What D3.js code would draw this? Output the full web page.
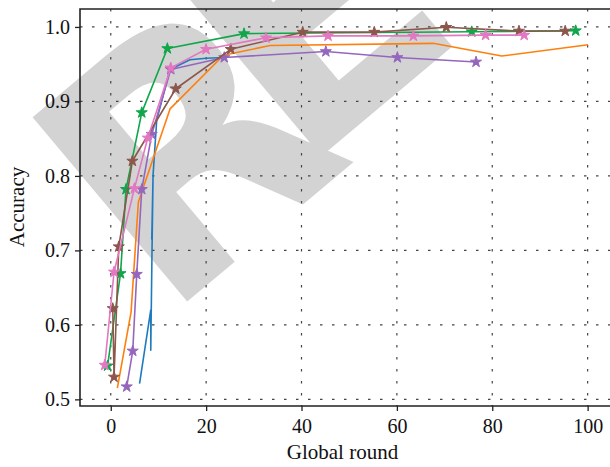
<!DOCTYPE html>
<html>
<head>
<meta charset="utf-8">
<script src="https://cdn.jsdelivr.net/npm/d3@7"></script>
<style>
  body { margin: 0; background: #fff; }
  text { font-family: "Liberation Serif", "DejaVu Serif", serif; fill: #111; }
</style>
</head>
<body>
<svg id="chart" width="610" height="467"></svg>
<script>
// values
const blueX   = [6.04, 8.39, 8.39, 8.66, 8.87, 8.6, 8.87, 9.64, 12.43, 16.6, 20.0, 23.75];
const blueY   = [0.521, 0.620, 0.566, 0.704, 0.801, 0.715, 0.801, 0.875, 0.943, 0.956, 0.958, 0.959];
const orangeX = [1.38, 4.26, 5.79, 12.43, 23.65, 33.4, 67.6, 82.0, 100.1];
const orangeY = [0.515, 0.617, 0.765, 0.890, 0.962, 0.975, 0.978, 0.961, 0.976];
const greenX  = [-0.67, 2.05, 3.2, 6.5, 11.87, 27.95, 75.7, 97.5];
const greenY  = [0.545, 0.669, 0.782, 0.885, 0.971, 0.991, 0.9936, 0.995];
const purpleX = [3.35, 4.61, 5.45, 6.5, 8.6, 12.58, 23.8, 45.1, 60.1, 76.6];
const purpleY = [0.517, 0.565, 0.668, 0.782, 0.856, 0.943, 0.959, 0.967, 0.959, 0.953];
const brownX  = [0.42, 0.69, 1.68, 4.53, 13.63, 25.16, 40.25, 55.26, 70.36, 85.6, 95.3];
const brownY  = [0.622, 0.530, 0.705, 0.820, 0.917, 0.970, 0.993, 0.993, 0.9995, 0.9945, 0.9945];
const pinkX   = [-1.26, 0.69, 4.95, 7.76, 12.58, 19.98, 32.56, 45.56, 63.44, 78.6, 86.7];
const pinkY   = [0.546, 0.671, 0.783, 0.851, 0.945, 0.970, 0.9855, 0.988, 0.988, 0.989, 0.989];

const xTicks = [0, 20, 40, 60, 80, 100];
const yTicks = [0.5, 0.6, 0.7, 0.8, 0.9, 1.0];

const series = [
  {x: blueX,   y: blueY,   color: "#1f7bbf", star: false},
  {x: orangeX, y: orangeY, color: "#ff7f0e", star: false},
  {x: greenX,  y: greenY,  color: "#10a64a", star: true},
  {x: purpleX, y: purpleY, color: "#9467bd", star: true},
  {x: brownX,  y: brownY,  color: "#8c564b", star: true},
  {x: pinkX,   y: pinkY,   color: "#e377c2", star: true}
];

const svg = d3.select("#chart");
const pL = 80, pT = 9, pR = 611, pB = 406;

const x = d3.scaleLinear().domain([-6.45, 104.9]).range([pL, pR]);
const y = d3.scaleLinear().domain([0.4911, 1.0241]).range([pB, pT]);

// grey watermark behind everything
const wm = svg.append("text")
    .attr("transform", "translate(164,321) rotate(-40)")
    .style("font-family", "DejaVu Sans")
    .style("font-weight", "bold")
    .style("font-size", "330px")
    .style("fill", "#d3d3d3");
wm.append("tspan").text("R");
wm.append("tspan").attr("dx", -58).attr("dy", -25).text("E");

// dotted grid
const grid = svg.append("g");
grid.selectAll(".gx").data(xTicks).join("line")
    .attr("class", "gx")
    .attr("x1", d => x(d)).attr("x2", d => x(d))
    .attr("y1", pT).attr("y2", pB)
    .attr("stroke", "#444").attr("stroke-width", 1.2)
    .attr("stroke-dasharray", "2.5,9.5");
grid.selectAll(".gy").data(yTicks).join("line")
    .attr("class", "gy")
    .attr("x1", pL).attr("x2", pR)
    .attr("y1", d => y(d)).attr("y2", d => y(d))
    .attr("stroke", "#444").attr("stroke-width", 1.2)
    .attr("stroke-dasharray", "2.5,9.5");

// series lines and star markers
const line = d3.line().x(d => x(d[0])).y(d => y(d[1]));
const star = d3.symbol().type(d3.symbolStar).size(38);

series.forEach(s => {
  const pts = s.x.map((v, i) => [v, s.y[i]]);
  svg.append("path").datum(pts)
      .attr("d", line)
      .attr("fill", "none")
      .attr("stroke", s.color)
      .attr("stroke-width", 1.6)
      .attr("stroke-linejoin", "round");
  if (s.star) {
    svg.append("g").selectAll("path").data(pts).join("path")
        .attr("d", star)
        .attr("transform", d => `translate(${x(d[0])},${y(d[1])})`)
        .attr("fill", s.color)
        .attr("stroke", s.color)
        .attr("stroke-width", 1);
  }
});

// axes
const xAxis = svg.append("g").attr("transform", `translate(0,${pB})`)
    .call(d3.axisBottom(x).tickValues(xTicks).tickSize(5).tickPadding(8).tickFormat(d3.format("d")));
const yAxis = svg.append("g").attr("transform", `translate(${pL},0)`)
    .call(d3.axisLeft(y).tickValues(yTicks).tickSize(5).tickPadding(5).tickFormat(d3.format(".1f")));
[xAxis, yAxis].forEach(a => {
  a.select(".domain").remove();
  a.selectAll("line").attr("stroke", "#222").attr("stroke-width", 1.3);
  a.selectAll("text").style("font-family", "Liberation Serif").style("font-size", "20px").attr("fill", "#111");
});

// frame (top, left, bottom)
svg.append("path")
    .attr("d", `M${pR},${pT}H${pL}V${pB}H${pR}`)
    .attr("fill", "none").attr("stroke", "#222").attr("stroke-width", 1.6);

svg.append("text")
    .attr("x", (pL + pR) / 2 - 3).attr("y", 459)
    .attr("text-anchor", "middle")
    .style("font-size", "21px")
    .text("Global round");

svg.append("text")
    .attr("transform", "translate(24,207) rotate(-90)")
    .attr("text-anchor", "middle")
    .style("font-size", "21px")
    .text("Accuracy");
</script>
</body>
</html>
